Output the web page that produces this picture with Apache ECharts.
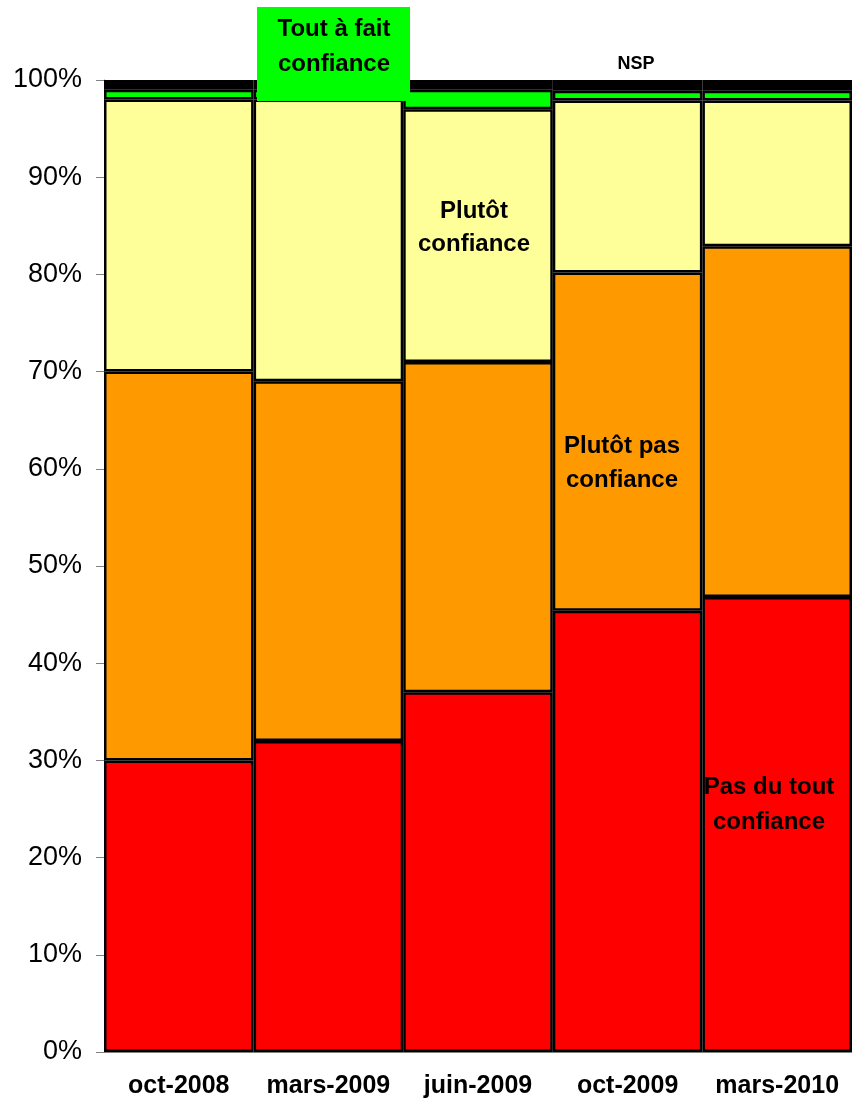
<!DOCTYPE html>
<html>
<head>
<meta charset="utf-8">
<title>Confiance</title>
<script src="https://cdn.jsdelivr.net/npm/echarts@6/dist/echarts.min.js"></script>
<style>
  html, body { margin: 0; padding: 0; background: #fff; }
</style>
</head>
<body>
<div id="main" style="width:852px;height:1101px;"></div>
<script>
// periods (x axis)
var categories = ['oct-2008', 'mars-2009', 'juin-2009', 'oct-2009', 'mars-2010'];

// shares in %, stacked bottom to top
var pasDuTout   = [30, 32, 37, 45.4, 46.8];
var plutotPas   = [40, 37, 34, 34.8, 36.1];
var plutot      = [28, 29, 26, 17.7, 15.0];
var toutAFait   = [1, 1, 2, 1, 1];
var nsp         = [1, 1, 1, 1.1, 1.1];

var yTicks = [0, 10, 20, 30, 40, 50, 60, 70, 80, 90, 100];

var labelFont = 'Liberation Sans';

function seg(name, data, color) {
    return {
        name: name,
        type: 'bar',
        stack: 'total',
        barCategoryGap: 0,
        barGap: 0,
        data: data,
        itemStyle: { color: color, borderColor: '#000', borderWidth: 2.5 },
        emphasis: { disabled: true },
        silent: true
    };
}

// annotation text, centred on (x, y)
function note(x, y, txt, size, lh) {
    return {
        type: 'text',
        x: x,
        y: y,
        z: 100,
        style: {
            text: txt,
            fill: '#000',
            font: 'bold ' + size + 'px "' + labelFont + '"',
            align: 'center',
            verticalAlign: 'middle',
            lineHeight: lh
        }
    };
}

var option = {
    animation: false,
    backgroundColor: '#fff',
    grid: { left: 104, right: 0, top: 80, bottom: 49 },
    xAxis: {
        type: 'category',
        data: categories,
        axisLine: { lineStyle: { color: '#808080', width: 1 } },
        axisTick: { show: false },
        axisLabel: {
            interval: 0,
            color: '#000',
            fontFamily: labelFont,
            fontWeight: 'bold',
            fontSize: 25,
            margin: 22
        }
    },
    yAxis: {
        type: 'value',
        min: yTicks[0],
        max: yTicks[yTicks.length - 1],
        interval: 10,
        splitLine: { show: false },
        axisLine: { show: true, lineStyle: { color: '#808080', width: 1 } },
        axisTick: { show: true, length: 8, lineStyle: { color: '#808080' } },
        axisLabel: {
            color: '#000',
            fontFamily: labelFont,
            fontSize: 27,
            margin: 22,
            formatter: '{value}%'
        }
    },
    series: [
        seg('Pas du tout confiance', pasDuTout, '#ff0000'),
        seg('Plutôt pas confiance', plutotPas, '#ff9900'),
        seg('Plutôt confiance', plutot, '#ffff99'),
        seg('Tout à fait confiance', toutAFait, '#00ff00'),
        seg('NSP', nsp, '#000000')
    ],
    graphic: [
        {
            type: 'rect',
            z: 90,
            shape: { x: 257, y: 7, width: 153, height: 94 },
            style: { fill: '#00ff00' }
        },
        {
            type: 'rect',
            z: 90,
            shape: { x: 609, y: 48, width: 54, height: 32 },
            style: { fill: '#fff' }
        },
        note(334, 47, 'Tout à fait\nconfiance', 24, 35),
        note(636, 64, 'NSP', 18, 20),
        note(474, 228, 'Plutôt\nconfiance', 24, 33),
        note(622, 463, 'Plutôt pas\nconfiance', 24, 34),
        note(769, 805, 'Pas du tout\nconfiance', 24, 35)
    ]
};

var myChart = echarts.init(document.getElementById('main'));
myChart.setOption(option);
</script>
</body>
</html>
